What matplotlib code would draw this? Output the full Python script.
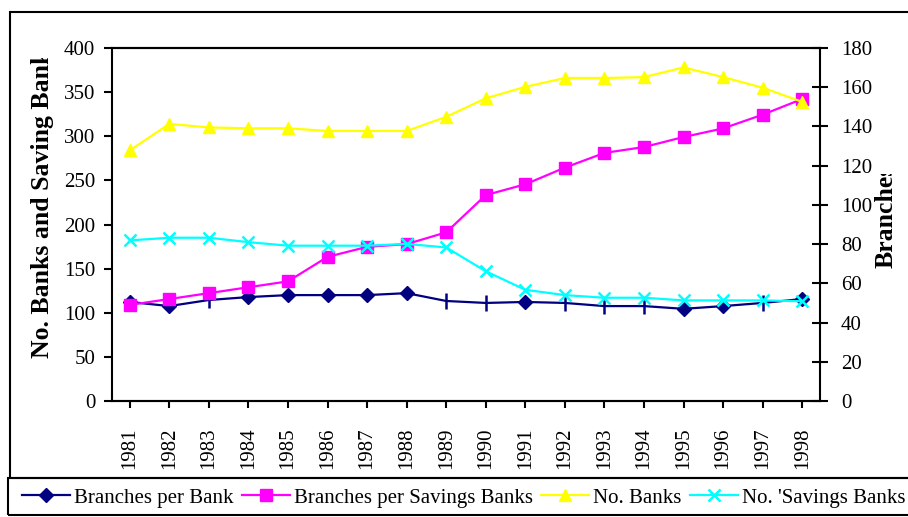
import numpy as np
import matplotlib
matplotlib.use("Agg")
import matplotlib.pyplot as plt
from matplotlib.patches import Rectangle

plt.rcParams['font.family'] = ['Liberation Serif', 'DejaVu Serif']

years = [str(y) for y in range(1981, 1999)]
# left axis
no_banks = [284, 314, 310, 309, 309, 306, 306, 306, 322, 343, 356, 366, 366, 367, 378, 367, 355, 339]
no_savings = [182, 185, 185, 180, 176, 176, 176, 178, 174, 147, 126, 120, 117, 117, 114, 114, 114, 113]
# right axis
br_per_bank = [50.5, 48.4, 51.5, 53, 54, 54, 54, 55, 51, 50, 50.5, 50, 48.4, 48.4, 47, 48.4, 50, 52]
br_per_savings = [49, 52, 55, 58, 61, 73.5, 78.6, 80, 86, 105, 110.5, 119, 126.5, 129.5, 134.6, 139, 146, 154]

# points where the old chart drew the navy marker as a bar instead of a diamond
diamond_idx = [0, 1, 3, 4, 5, 6, 7, 10, 14, 15, 17]
bar_idx = [2, 8, 9, 11, 12, 13, 16]

W, H = 908, 517
fig = plt.figure(figsize=(W / 100, H / 100), dpi=100)
ax1 = fig.add_axes([112 / W, 1 - 401 / H, 708 / W, 353 / H])
ax2 = ax1.twinx()
ax1.set_zorder(2)
ax1.patch.set_visible(False)

x = np.arange(len(years))
lw = 1.6
ax2.plot(x, br_per_bank, color='#000080', lw=lw, marker='D', ms=7.5,
         markevery=diamond_idx, label='Branches per Bank')
ax2.plot(x[bar_idx], np.array(br_per_bank)[bar_idx], ls='none', color='#000080',
         marker='|', ms=11, mew=1.8)
ax2.plot(x, br_per_savings, color='#FF00FF', lw=lw, marker='s', ms=8,
         label='Branches per Savings Banks')
ax1.plot(x, no_banks, color='#FFFF00', lw=lw, marker='^', ms=9,
         label='No. Banks')
ax1.plot(x, no_savings, color='#00FFFF', lw=lw, marker='x', ms=9, mew=1.8,
         label="No. 'Savings Banks")

ax1.set_xlim(-0.45, len(years) - 0.55)
ax1.set_ylim(0, 400)
ax2.set_ylim(0, 180)
ax1.set_yticks(range(0, 401, 50))
ax2.set_yticks(range(0, 181, 20))
ax1.set_xticks(x)
ax1.set_xticklabels(years, rotation=90)

for a in (ax1, ax2):
    for s in a.spines.values():
        s.set_linewidth(1.5)
ax2.spines['left'].set_visible(False)
ax1.spines['right'].set_visible(False)
ax1.tick_params(axis='y', direction='out', length=6, width=1.5, labelsize=15, pad=6)
ax1.tick_params(axis='x', direction='out', length=5, width=1.5, labelsize=15, pad=14)
ax2.tick_params(axis='y', direction='inout', length=12, width=1.5, labelsize=15, pad=9)

# axis titles (cut off at the top like in the original)
fig.text(43 / W, 1 - 358 / H, 'No. Banks and Saving Banks', rotation=90,
         ha='center', va='bottom', fontsize=18.5, fontweight='bold')
fig.text(886 / W, 1 - 268 / H, 'Branches', rotation=90,
         ha='center', va='bottom', fontsize=18.5, fontweight='bold')
for (x0, y0, x1, y1) in [(24, 14, 59, 58), (874, 14, 908, 174)]:
    fig.artists.append(Rectangle((x0 / W, 1 - y1 / H), (x1 - x0) / W, (y1 - y0) / H,
                                 transform=fig.transFigure, fc='white', ec='none', zorder=5))

# outer border and legend box
fig.patches.append(Rectangle((10 / W, 1 - 478 / H), 1, 466 / H, transform=fig.transFigure,
                             fill=False, lw=1.5, ec='black'))
fig.patches.append(Rectangle((8 / W, 1 - 515 / H), 1, 37 / H, transform=fig.transFigure,
                             fill=False, lw=1.5, ec='black'))

h1, l1 = ax2.get_legend_handles_labels()
h2, l2 = ax1.get_legend_handles_labels()
fig.legend(h1 + h2, l1 + l2, ncol=4, loc='center left',
           bbox_to_anchor=(22 / W, 1 - 498 / H), frameon=False, fontsize=15,
           handlelength=2.3, handletextpad=0.2, columnspacing=0.4,
           borderpad=0, borderaxespad=0)

fig.savefig('out.png', dpi=100)
